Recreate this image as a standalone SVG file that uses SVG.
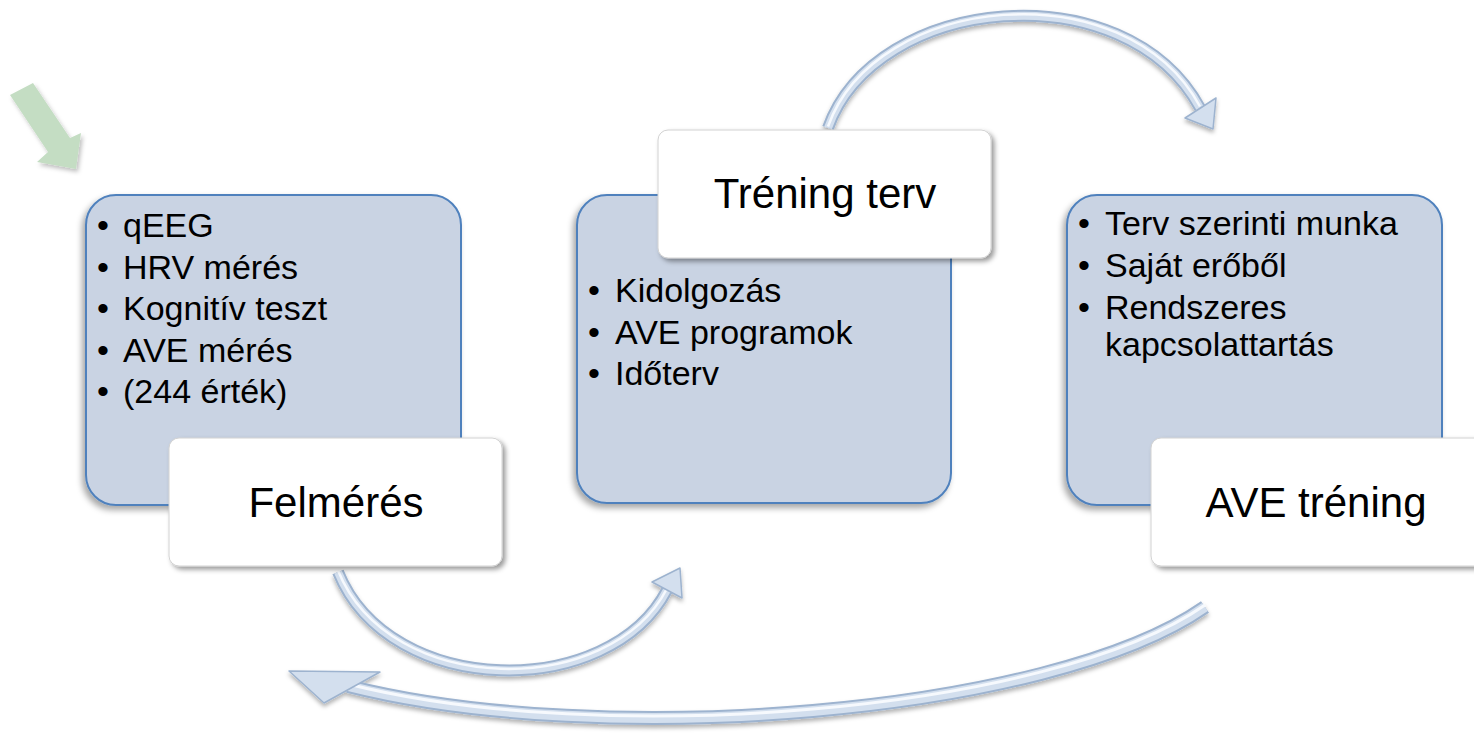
<svg xmlns="http://www.w3.org/2000/svg" width="1474" height="734" viewBox="0 0 1474 734">
  <defs>
    <filter id="shBlue" x="-10%" y="-10%" width="120%" height="125%">
      <feDropShadow dx="-3" dy="4" stdDeviation="3" flood-color="#000" flood-opacity="0.35"/>
    </filter>
    <filter id="shWhite" x="-10%" y="-10%" width="120%" height="130%">
      <feDropShadow dx="3" dy="3" stdDeviation="2.5" flood-color="#000" flood-opacity="0.4"/>
    </filter>
    <filter id="shArrow" x="-10%" y="-20%" width="120%" height="150%">
      <feDropShadow dx="0" dy="3" stdDeviation="2" flood-color="#000" flood-opacity="0.3"/>
    </filter>
    <filter id="shGreen" x="-20%" y="-20%" width="150%" height="150%">
      <feDropShadow dx="2" dy="3" stdDeviation="2" flood-color="#000" flood-opacity="0.25"/>
    </filter>
    <style>
      .blue { fill: #C9D3E3; stroke: #4F81BD; stroke-width: 2; }
      .label { fill: #FFFFFF; stroke: #D2D2D2; stroke-width: 1; }
      .lt { font-family: "Liberation Sans", Arial, sans-serif; font-size: 42px; fill: #000; text-anchor: middle; }
      .bt { font-family: "Liberation Sans", Arial, sans-serif; font-size: 34px; fill: #000; }
      .sh-out { fill: none; stroke: #9DB3CF; stroke-linecap: butt; }
      .sh-mid { fill: none; stroke: #D3DFEE; stroke-linecap: butt; }
      .sh-hi { fill: none; stroke: #F6F9FD; stroke-linecap: butt; }
      .head { fill: #D3DFEE; stroke: #9DB3CF; stroke-width: 1.5; stroke-linejoin: round; }
    </style>
  </defs>
  <rect width="1474" height="734" fill="#FFFFFF"/>

  <g id="start-arrow" filter="url(#shGreen)">
    <polygon points="10,95 33,83 70,138 81,133 76,169 37,162 48,152" fill="#C4DDC3"/>
  </g>

  <g id="connectors">
    <g id="c-plan-to-training" filter="url(#shArrow)">
      <path class="sh-out" stroke-width="12" d="M 828 128 C 875 -5, 1125 -30, 1200 108"/>
      <path class="sh-mid" stroke-width="8" d="M 828 128 C 875 -5, 1125 -30, 1200 108"/>
      <path class="sh-hi" stroke-width="2.5" d="M 828 128 C 875 -5, 1125 -30, 1200 108" transform="translate(0,-1.5)"/>
      <polygon class="head" points="1185,118 1216,98 1213,129"/>
    </g>
    <g id="c-assess-to-plan" filter="url(#shArrow)">
      <path class="sh-out" stroke-width="12" d="M 338 572 C 390 700, 610 700, 667 590"/>
      <path class="sh-mid" stroke-width="8" d="M 338 572 C 390 700, 610 700, 667 590"/>
      <path class="sh-hi" stroke-width="2.5" d="M 338 572 C 390 700, 610 700, 667 590" transform="translate(0,-1.5)"/>
      <polygon class="head" points="652,582 680,568 682,598"/>
    </g>
    <g id="c-training-to-assess" filter="url(#shArrow)">
      <path class="sh-out" stroke-width="14" d="M 1205 607 C 1050 715, 600 750, 348 686"/>
      <path class="sh-mid" stroke-width="10" d="M 1205 607 C 1050 715, 600 750, 348 686"/>
      <path class="sh-hi" stroke-width="3" d="M 1205 607 C 1050 715, 600 750, 348 686" transform="translate(0,-2)"/>
      <polygon class="head" points="380,672 289,671 324,703"/>
    </g>
  </g>

  <g id="node-felmeres">
    <rect class="blue" x="86" y="195" width="375" height="310" rx="30" filter="url(#shBlue)"/>
    <text class="bt">
      <tspan x="97" y="237">•</tspan><tspan x="123" y="237">qEEG</tspan>
      <tspan x="97" y="278.5">•</tspan><tspan x="123" y="278.5">HRV mérés</tspan>
      <tspan x="97" y="320">•</tspan><tspan x="123" y="320">Kognitív teszt</tspan>
      <tspan x="97" y="361.5">•</tspan><tspan x="123" y="361.5">AVE mérés</tspan>
      <tspan x="97" y="403">•</tspan><tspan x="123" y="403">(244 érték)</tspan>
    </text>
    <rect class="label" x="169" y="438" width="333" height="128" rx="10" filter="url(#shWhite)"/>
    <text class="lt" x="336" y="517">Felmérés</text>
  </g>

  <g id="node-terv">
    <rect class="blue" x="577" y="195" width="374" height="308" rx="30" filter="url(#shBlue)"/>
    <text class="bt">
      <tspan x="588" y="302">•</tspan><tspan x="615" y="302">Kidolgozás</tspan>
      <tspan x="588" y="343.5">•</tspan><tspan x="615" y="343.5">AVE programok</tspan>
      <tspan x="588" y="385">•</tspan><tspan x="615" y="385">Időterv</tspan>
    </text>
    <rect class="label" x="658" y="130" width="333" height="128" rx="10" filter="url(#shWhite)"/>
    <text class="lt" x="825" y="208">Tréning terv</text>
  </g>

  <g id="node-ave">
    <rect class="blue" x="1067" y="195" width="375" height="310" rx="30" filter="url(#shBlue)"/>
    <text class="bt">
      <tspan x="1078" y="235">•</tspan><tspan x="1105" y="235">Terv szerinti munka</tspan>
      <tspan x="1078" y="277">•</tspan><tspan x="1105" y="277">Saját erőből</tspan>
      <tspan x="1078" y="319">•</tspan><tspan x="1105" y="319">Rendszeres</tspan>
      <tspan x="1105" y="356">kapcsolattartás</tspan>
    </text>
    <rect class="label" x="1151" y="438" width="333" height="128" rx="10" filter="url(#shWhite)"/>
    <text class="lt" x="1316" y="517">AVE tréning</text>
  </g>
</svg>
